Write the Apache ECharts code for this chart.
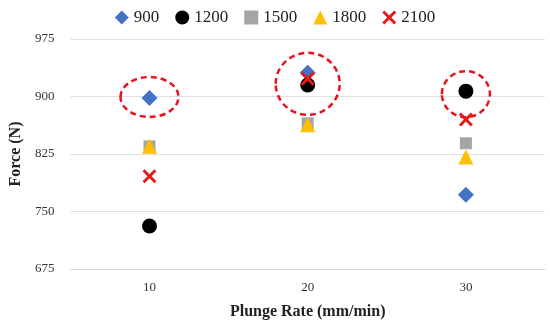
<!DOCTYPE html>
<html><head><meta charset="utf-8">
<script src="https://cdn.jsdelivr.net/npm/echarts@6/dist/echarts.min.js"></script>
<style>html,body{margin:0;padding:0;background:#fff}#c{width:550px;height:330px}</style>
</head><body><div id="c"></div>
<script>
const categories = ['10', '20', '30'];
const s900 = [898, 931, 772];
const s1200 = [731, 915, 907];
const s1500 = [835, 865, 839];
const s1800 = [835, 863, 821];
const s2100 = [796, 923, 870];
const seriesNames = ['900', '1200', '1500', '1800', '2100'];
const highlight = [[0, 898], [1, 923], [2, 907]];

const crossPath = 'path://M1.5,0 L5,3.5 L8.5,0 L10,1.5 L6.5,5 L10,8.5 L8.5,10 L5,6.5 L1.5,10 L0,8.5 L3.5,5 L0,1.5 Z';
const font = 'Liberation Serif, Times New Roman, serif';
const chart = echarts.init(document.getElementById('c'));
const mk = (name, data, symbol, size, color) => ({
  name, type: 'scatter', data, symbol, symbolSize: size,
  itemStyle: { color, opacity: 1 }, emphasis: { disabled: true }
});
chart.setOption({
  animation: false,
  textStyle: { fontFamily: font },
  legend: {
    top: 4, left: 'center', itemGap: 16, itemWidth: 14, itemHeight: 14,
    textStyle: { fontFamily: font, fontSize: 17, color: '#222' },
    data: seriesNames
  },
  grid: { left: 70, right: 5, top: 39, bottom: 61 },
  xAxis: {
    type: 'category', data: categories,
    name: 'Plunge Rate (mm/min)', nameLocation: 'middle', nameGap: 35,
    nameTextStyle: { fontFamily: font, fontWeight: 'bold', fontSize: 16, color: '#222' },
    axisLine: { lineStyle: { color: '#d9d9d9' } }, axisTick: { show: false },
    axisLabel: { fontFamily: font, fontSize: 13, color: '#333', margin: 12 }
  },
  yAxis: {
    type: 'value', min: 675, max: 975, interval: 75,
    name: 'Force (N)', nameLocation: 'middle', nameGap: 44,
    nameTextStyle: { fontFamily: font, fontWeight: 'bold', fontSize: 16, color: '#222' },
    axisLine: { show: false }, axisTick: { show: false },
    axisLabel: { fontFamily: font, fontSize: 13, color: '#333', margin: 16 },
    splitLine: { lineStyle: { color: '#e0e0e0' } }
  },
  series: [
    mk('900', s900, 'diamond', [16, 16], '#4472C4'),
    mk('1200', s1200, 'circle', 15, '#000000'),
    mk('1500', s1500, 'rect', 12, '#A5A5A5'),
    mk('1800', s1800, 'triangle', 15, '#FFC000'),
    mk('2100', s2100, crossPath, 14, '#E31A1C')
  ]
});
const sizes = [[58, 40], [64, 62], [48, 46]];
const offs = [[0, -1], [0, 5], [0, 3]];
const g = highlight.map((p, i) => {
  const px = chart.convertToPixel({ seriesIndex: 0 }, p);
  return {
    type: 'ellipse', silent: true,
    shape: { cx: px[0] + offs[i][0], cy: px[1] + offs[i][1], rx: sizes[i][0] / 2, ry: sizes[i][1] / 2 },
    style: { fill: 'none', stroke: '#E8141C', lineWidth: 2.5, lineDash: [6, 4] }
  };
});
chart.setOption({ graphic: g });
</script></body></html>
